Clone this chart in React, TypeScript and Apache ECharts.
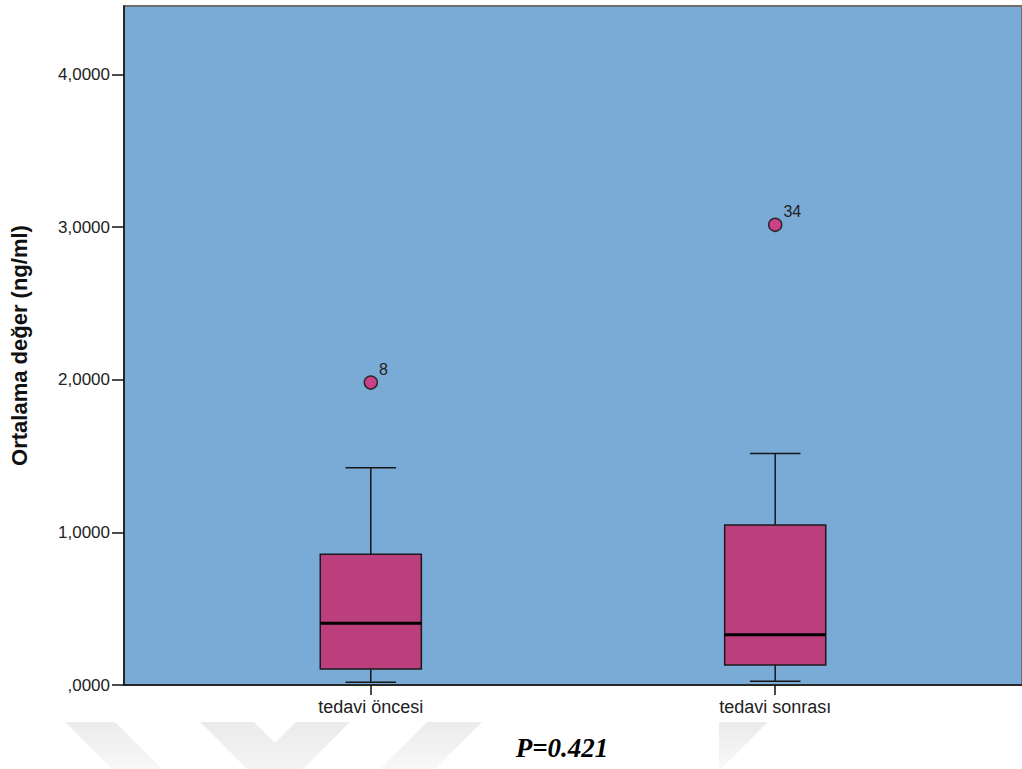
import React, { useEffect, useRef } from 'react';
import * as echarts from 'echarts';

const categories = ['tedavi öncesi', 'tedavi sonrası'];
const whiskerLow = [0.018, 0.024];
const q1Values = [0.105, 0.131];
const medianValues = [0.404, 0.33];
const q3Values = [0.857, 1.049];
const whiskerHigh = [1.423, 1.517];
const outlierCategory = [0, 1];
const outlierValues = [1.982, 3.016];
const outlierLabels = ['8', '34'];
const categoryTicks = [0, 1];
const yTicks = [0, 1, 2, 3, 4];
const yAxisTitle = 'Ortalama değer (ng/ml)';
const pValueText = 'P=0.421';

const FONT = '"Liberation Sans", Arial, sans-serif';

export default function App() {
  const ref = useRef<HTMLDivElement>(null);
  useEffect(() => {
    const chart = echarts.init(ref.current!, null, { renderer: 'svg' });
    const boxData = categories.map((_, i) => [i, whiskerLow[i], q1Values[i], medianValues[i], q3Values[i], whiskerHigh[i]]);
    const outlierData = outlierValues.map((v, i) => ({ name: outlierLabels[i], value: [outlierCategory[i], v] }));
    const wmFill = new echarts.graphic.LinearGradient(0, 0, 0, 1, [
      { offset: 0, color: '#ebebeb' },
      { offset: 1, color: '#f9f9f9' },
    ]);
    chart.setOption({
      animation: false,
      textStyle: { fontFamily: FONT },
      grid: {
        left: 119, top: 6, right: -3, bottom: 84,
        show: true, backgroundColor: '#7aaad6', borderColor: '#6e6e6e', borderWidth: 2,
      },
      xAxis: {
        type: 'value', min: -0.6103, max: 1.6103,
        splitLine: { show: false },
        axisLine: { show: true, onZero: false, lineStyle: { color: '#111', width: 1.5 } },
        axisTick: { show: true, customValues: categoryTicks, length: 10, lineStyle: { color: '#111', width: 1.5 } },
        axisLabel: {
          customValues: categoryTicks, margin: 13, fontSize: 18, color: '#222', fontFamily: FONT,
          formatter: (v: number) => categories[Math.round(v)] ?? '',
        },
      },
      yAxis: {
        type: 'value', min: 0, max: 4.45,
        splitLine: { show: false },
        axisLine: { show: true, onZero: false, lineStyle: { color: '#111', width: 1.5 } },
        axisTick: { show: true, customValues: yTicks, length: 12, lineStyle: { color: '#111', width: 1.5 } },
        axisLabel: {
          customValues: yTicks, margin: 14, fontSize: 17, color: '#222', fontFamily: FONT,
          formatter: (v: number) => (v === 0 ? ',0000' : v.toFixed(4).replace('.', ',')),
        },
        name: yAxisTitle, nameLocation: 'middle', nameRotate: 90, nameGap: 94,
        nameTextStyle: { fontSize: 22, fontWeight: 'bold', color: '#111', fontFamily: FONT },
      },
      series: [
        {
          type: 'custom',
          data: boxData,
          encode: { x: 0, y: [1, 2, 3, 4, 5] },
          renderItem: (params: any, api: any) => {
            const x = api.value(0);
            const lo = api.coord([x, api.value(1)]);
            const b1 = api.coord([x, api.value(2)]);
            const md = api.coord([x, api.value(3)]);
            const b3 = api.coord([x, api.value(4)]);
            const hi = api.coord([x, api.value(5)]);
            const half = api.size([0.125, 0])[0];
            const cap = half / 2;
            const cx = lo[0];
            const ls = { stroke: '#161616', lineWidth: 1.5 };
            return {
              type: 'group',
              children: [
                { type: 'line', shape: { x1: cx, y1: hi[1], x2: cx, y2: b3[1] }, style: ls },
                { type: 'line', shape: { x1: cx, y1: b1[1], x2: cx, y2: lo[1] }, style: ls },
                { type: 'line', shape: { x1: cx - cap, y1: hi[1], x2: cx + cap, y2: hi[1] }, style: ls },
                { type: 'line', shape: { x1: cx - cap, y1: lo[1], x2: cx + cap, y2: lo[1] }, style: ls },
                {
                  type: 'rect',
                  shape: { x: cx - half, y: b3[1], width: half * 2, height: b1[1] - b3[1] },
                  style: { fill: '#bb3f7c', stroke: '#1a1a1a', lineWidth: 1.5 },
                },
                { type: 'line', shape: { x1: cx - half, y1: md[1], x2: cx + half, y2: md[1] }, style: { stroke: '#000', lineWidth: 3 } },
              ],
            };
          },
        },
        {
          type: 'scatter',
          data: outlierData,
          symbol: 'circle',
          symbolSize: 13,
          itemStyle: { color: '#cc4088', borderColor: '#2a2a2a', borderWidth: 1.5, opacity: 1 },
          label: {
            show: true, formatter: '{b}', position: 'right', distance: 1, offset: [0, -13],
            fontSize: 16, color: '#222', fontFamily: FONT,
          },
          z: 5,
        },
      ],
      graphic: [
        { type: 'polygon', shape: { points: [[65, 722], [115, 722], [165, 772], [115, 772]] }, style: { fill: wmFill }, silent: true },
        { type: 'polygon', shape: { points: [[200, 722], [254, 722], [275, 743], [296, 722], [350, 722], [275, 797]] }, style: { fill: wmFill }, silent: true },
        { type: 'polygon', shape: { points: [[427, 722], [482, 722], [432, 772], [377, 772]] }, style: { fill: wmFill }, silent: true },
        { type: 'polygon', shape: { points: [[719, 722], [768, 722], [719, 771]] }, style: { fill: wmFill }, silent: true },
        {
          type: 'text', x: 562, y: 748,
          style: {
            text: pValueText, textAlign: 'center', textVerticalAlign: 'middle',
            font: 'italic bold 27px "Liberation Serif", "Times New Roman", serif', fill: '#000',
          },
          z: 10,
        },
      ],
    });
    return () => chart.dispose();
  }, []);
  return <div ref={ref} style={{ position: 'fixed', left: 0, top: 0, width: 1022, height: 769, background: '#fff' }} />;
}
